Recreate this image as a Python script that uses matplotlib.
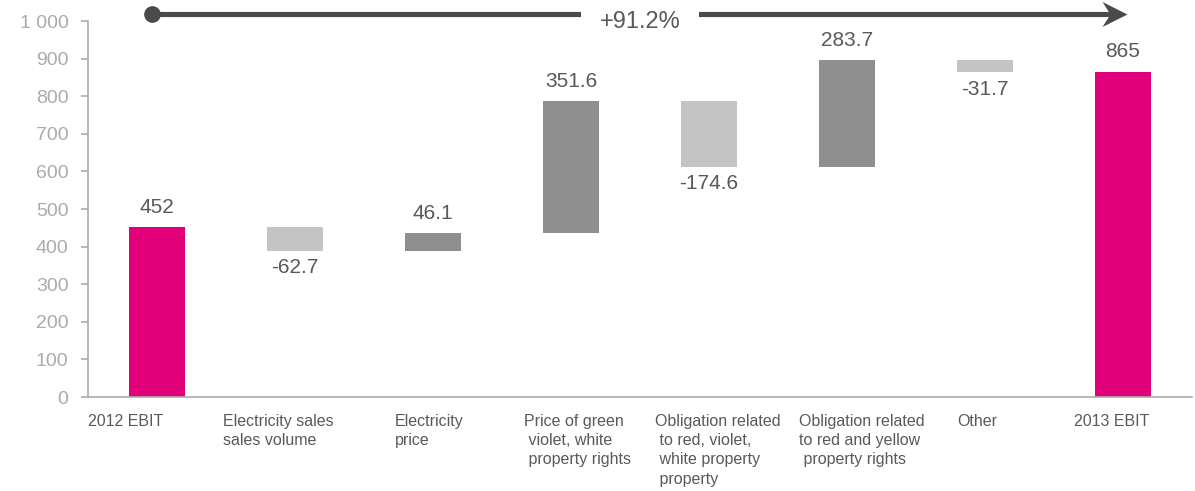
import numpy as np
import matplotlib
matplotlib.use("Agg")
import matplotlib.pyplot as plt
from matplotlib.path import Path

plt.rcParams['font.family'] = ['Liberation Sans', 'DejaVu Sans']

# -----data-----
categories = ["2012 EBIT",
              "Electricity sales\nsales volume",
              "Electricity\nprice",
              "Price of green\n violet, white\n property rights",
              "Obligation related\n to red, violet,\n white property\n property",
              "Obligation related\nto red and yellow\n property rights",
              "Other",
              "2013 EBIT"]
values = [452, -62.7, 46.1, 351.6, -174.6, 283.7, -31.7, 865]
value_labels = ["452", "-62.7", "46.1", "351.6", "-174.6", "283.7", "-31.7", "865"]
kinds = ["total", "delta", "delta", "delta", "delta", "delta", "delta", "total"]
growth_label = "+91.2%"
yticks = [0, 100, 200, 300, 400, 500, 600, 700, 800, 900, 1000]
ytick_labels = ["0", "100", "200", "300", "400", "500", "600", "700", "800", "900", "1 000"]
# ---------------

# left offsets of the category text relative to bar centre
label_offsets = [-0.5, -0.52, -0.275, -0.34, -0.39, -0.35, -0.2, -0.355]

PINK = "#E2007A"
DARK = "#8F8F8F"
LIGHT = "#C4C4C4"
AXIS = "#ABABAB"
TEXT = "#595959"
ARROW = "#4A4A4A"

fig = plt.figure(figsize=(11.95, 4.91), dpi=100)
ax = fig.add_axes([88 / 1195, 94 / 491, 1104 / 1195, 376 / 491])

x = np.arange(len(values))
bottoms = []
heights = []
colors = []
running = 0
for v, k in zip(values, kinds):
    if k == "total":
        bottoms.append(0)
        heights.append(v)
        colors.append(PINK)
        running = v
    else:
        if v >= 0:
            bottoms.append(running)
            colors.append(DARK)
        else:
            bottoms.append(running + v)
            colors.append(LIGHT)
        heights.append(abs(v))
        running += v

ax.bar(x, heights, bottom=bottoms, width=0.4, color=colors, zorder=2)

# value labels
for i, (v, k) in enumerate(zip(values, kinds)):
    top = bottoms[i] + heights[i]
    if v >= 0:
        ax.text(x[i], top + 28, value_labels[i], ha='center', va='bottom',
                fontsize=15, color=TEXT)
    else:
        ax.text(x[i], bottoms[i] - 20, value_labels[i], ha='center', va='top',
                fontsize=15, color=TEXT)

# category labels
for i, lab in enumerate(categories):
    ax.text(x[i] + label_offsets[i], -44, lab, ha='left', va='top',
            fontsize=11.5, color=TEXT, linespacing=1.36)

ax.set_xlim(-0.5, len(values) - 0.5)
ax.set_ylim(0, 1000)
ax.set_yticks(yticks)
ax.set_yticklabels(ytick_labels)
ax.set_xticks([])
ax.tick_params(axis='y', colors=AXIS, labelsize=14, length=5, width=1.2,
               labelcolor=AXIS, pad=9)
for s in ['top', 'right']:
    ax.spines[s].set_visible(False)
for s in ['left', 'bottom']:
    ax.spines[s].set_color(AXIS)
    ax.spines[s].set_linewidth(1.2)

# growth arrow
y_arrow = 1018
x_start, x_end = -0.036, 6.95
ax.plot([x_start, x_end], [y_arrow, y_arrow], color=ARROW, lw=3.7,
        solid_capstyle='butt', clip_on=False, zorder=4)
ax.plot([x_start], [y_arrow], marker='o', markersize=11, color=ARROW,
        clip_on=False, zorder=5)
# notched arrow head, tip at the origin
head = Path([(0.0, 0.0), (-1.0, 0.5), (-0.68, 0.0), (-1.0, -0.5), (0.0, 0.0)],
            [Path.MOVETO, Path.LINETO, Path.LINETO, Path.LINETO, Path.CLOSEPOLY])
ax.plot([7.03], [y_arrow], marker=head, markersize=36, color=ARROW,
        markeredgewidth=0, clip_on=False, zorder=5)
ax.text(3.5, 998, growth_label, ha='center', va='center', fontsize=17,
        color=TEXT, zorder=6,
        bbox=dict(facecolor='white', edgecolor='none', boxstyle='square,pad=0.8'))

fig.savefig("out.png", dpi=100)
